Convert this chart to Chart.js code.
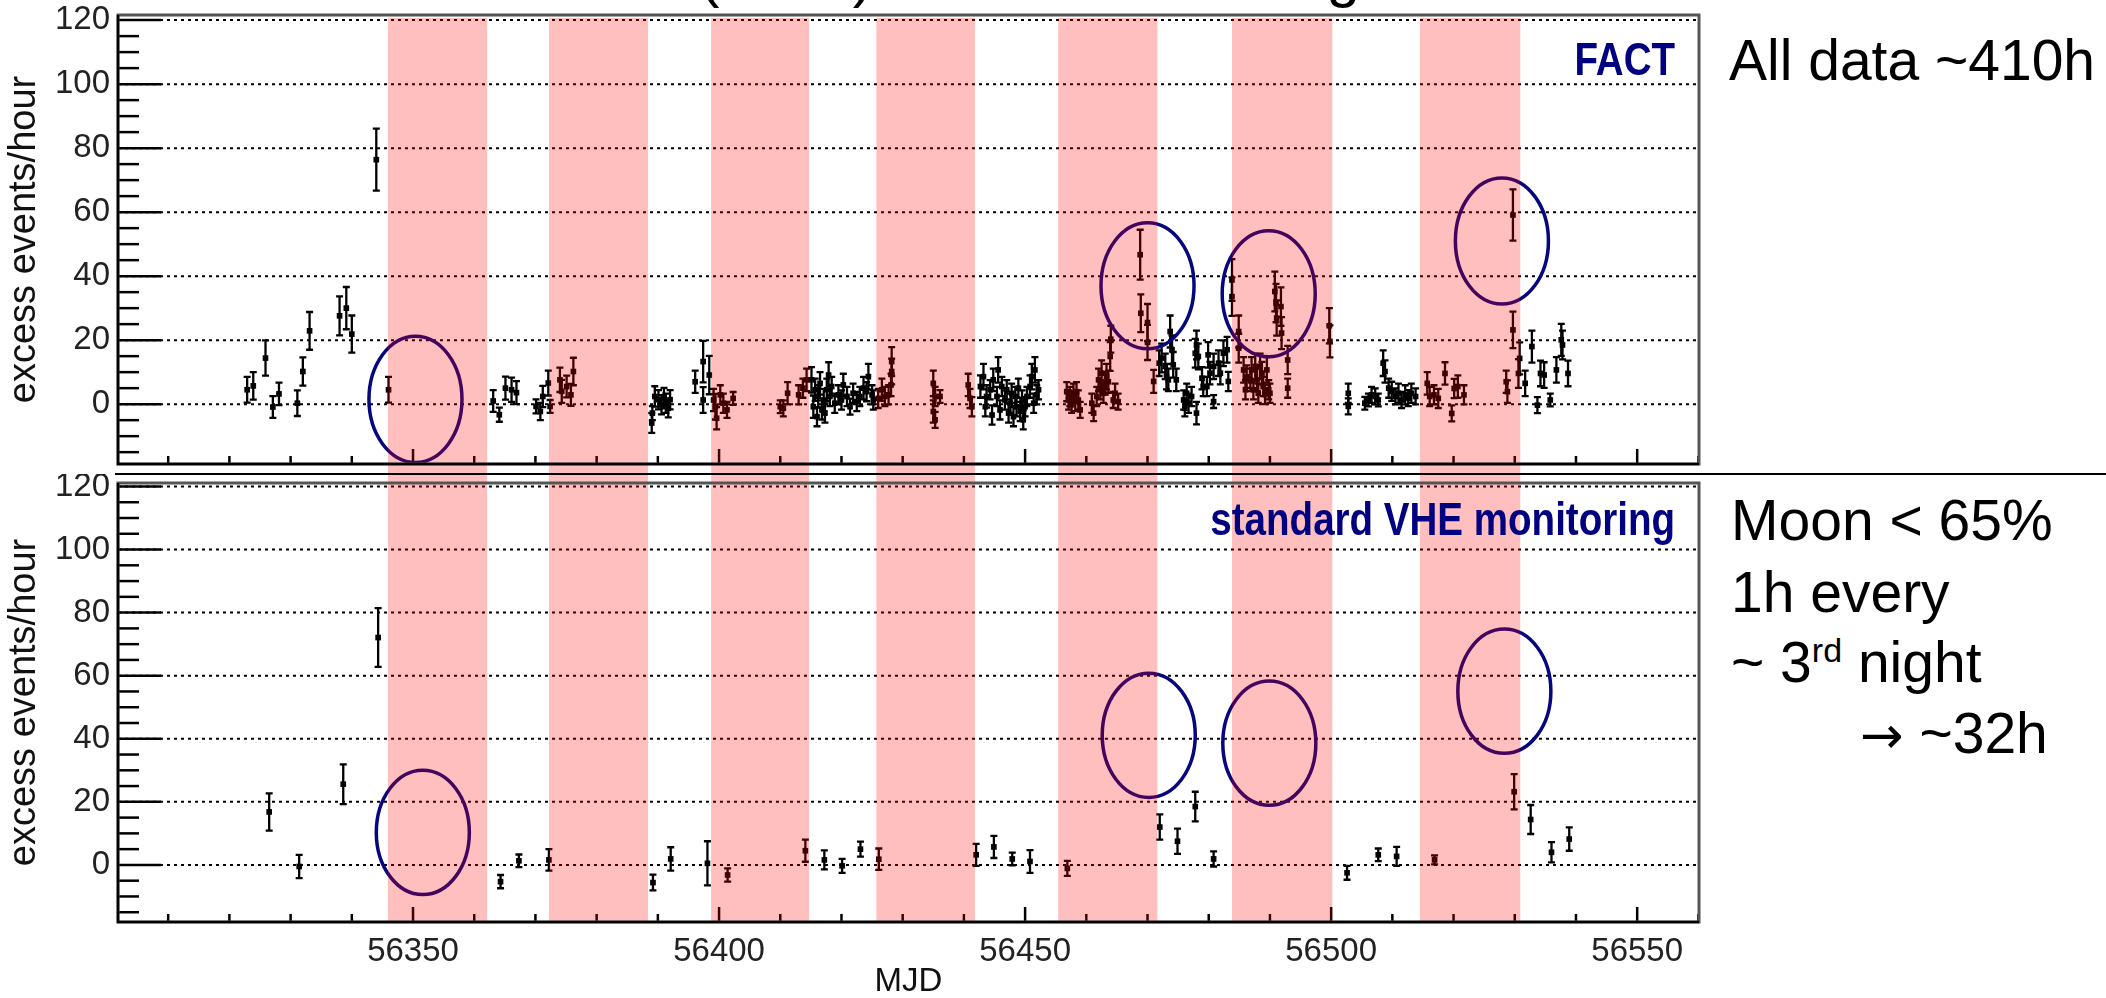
<!DOCTYPE html>
<html>
<head>
<meta charset="utf-8">
<script src="https://cdn.jsdelivr.net/npm/chart.js@4.4.0/dist/chart.umd.min.js"></script>
<style>
  html, body { margin: 0; padding: 0; background: #fff; }
  body { position: relative; width: 2106px; height: 998px; overflow: hidden; font-family: "Liberation Sans", Arial, sans-serif; }
  canvas { position: absolute; left: 0; }
  #allData { top: 0; }
  #monitoring { top: 474px; }
  .sep { position: absolute; left: 115px; top: 473px; width: 1991px; height: 2px; background: #000; z-index: 2; }
  .title { position: absolute; left: 466px; top: -54px; font-size: 60px; line-height: 60px; white-space: nowrap; color: #000; }
  .note { position: absolute; font-size: 57px; line-height: 57px; white-space: nowrap; color: #000; }
  .sup { font-size: 34px; position: relative; top: -20px; }
  .arrow { font-family: "DejaVu Sans", sans-serif; font-size: 52px; }
</style>
</head>
<body>
<div class="title">Mrk 501 (2013) Dense Monitoring</div>
<canvas id="allData" width="1712" height="474"></canvas>
<canvas id="monitoring" width="1712" height="524"></canvas>
<div class="sep"></div>
<div class="note" style="left:1729px; top:32px">All data ~410h</div>
<div class="note" style="left:1731px; top:492px">Moon &lt; 65%</div>
<div class="note" style="left:1731px; top:564px">1h every</div>
<div class="note" style="left:1731px; top:634px">~ 3<span class="sup">rd</span> night</div>
<div class="note" style="left:1860px; top:705px"><span class="arrow">&rarr;</span> ~32h</div>
<script>
// axis setup
const mjdMin = 56301.8, mjdMax = 56560.1;
const xLabels = [56350, 56400, 56450, 56500, 56550];
const yLabels = [0, 20, 40, 60, 80, 100, 120];

// bright moon periods (shaded)
const moonStart = [56345.9, 56372.2, 56398.7, 56425.7, 56455.4, 56483.8, 56514.5];
const moonEnd   = [56362.1, 56388.4, 56414.7, 56441.8, 56471.6, 56500.2, 56530.9];

// all data: nightly excess rate
const allMjd = [
  56322.9, 56323.9, 56325.9, 56327.1, 56328.1, 56331.1, 56332.0, 56333.1, 56338.0, 56339.1, 56340.0, 56344.0, 56346.0,
  56363.1, 56364.1, 56365.1, 56366.1, 56366.9, 56370.1, 56370.8, 56371.2, 56372.1, 56372.4, 56374.0, 56374.3, 56375.1, 56375.8, 56376.2,
  56389.0, 56389.1, 56389.5, 56390.1, 56390.6, 56391.0, 56391.3, 56391.7, 56392.0, 56396.1,
  56397.4, 56397.4, 56398.4, 56399.1, 56399.4, 56399.6, 56400.2, 56400.7, 56401.3, 56402.3,
  56410.0, 56410.5, 56411.2, 56413.0, 56413.7, 56414.3,
  56415.1, 56415.4, 56415.7, 56416.0, 56416.2, 56416.5, 56416.8, 56417.1, 56417.3, 56417.6, 56417.9, 56418.1, 56418.4,
  56418.9, 56419.5, 56420.0, 56420.3, 56420.9, 56421.4, 56421.9, 56422.5, 56423.0, 56423.6, 56424.1, 56424.4, 56425.0, 56425.2,
  56426.0, 56426.6, 56427.1, 56427.7, 56428.1, 56428.2, 56428.2,
  56435.0, 56435.3, 56435.0, 56435.3, 56436.1, 56440.7, 56441.0, 56441.3,
  56442.7, 56443.2, 56443.5, 56443.7, 56444.3, 56444.6, 56444.8, 56445.4, 56445.6, 56445.9, 56446.2, 56446.7, 56447.0, 56447.3, 56447.6, 56447.8,
  56448.1, 56448.4, 56448.6, 56448.9, 56449.2, 56449.5, 56449.7, 56450.0, 56450.3, 56450.8, 56451.1, 56451.4, 56451.6, 56451.9, 56452.2,
  56456.8, 56457.1, 56457.3, 56457.6, 56457.9, 56458.2, 56458.4, 56458.7, 56459.0,
  56460.9, 56461.2, 56461.7, 56462.0, 56462.3, 56462.5, 56462.8, 56463.1, 56463.3, 56463.6, 56463.9, 56464.0, 56464.4, 56464.7, 56465.2,
  56468.8, 56468.9, 56470.0, 56470.0, 56471.0,
  56471.9, 56472.3, 56472.9, 56473.1, 56473.4, 56473.7, 56474.0, 56474.2, 56474.7,
  56475.9, 56476.1, 56476.4, 56476.7, 56477.2, 56478.0, 56477.8, 56478.0, 56478.3,
  56478.9, 56479.1, 56479.7, 56479.9, 56480.2, 56480.8, 56480.8, 56481.6, 56481.9, 56482.4, 56483.0, 56483.2,
  56483.8, 56483.8, 56484.9, 56484.9,
  56485.7, 56486.0, 56486.2, 56486.8, 56487.0, 56487.3, 56487.6, 56487.9, 56488.1, 56488.4, 56488.7, 56488.9, 56489.2, 56489.5, 56489.8, 56490.0,
  56490.8, 56491.0, 56491.1, 56491.8, 56491.9, 56492.9, 56492.9,
  56499.7, 56499.8, 56502.8, 56502.8,
  56505.5, 56506.1, 56506.6, 56507.2, 56507.7, 56508.5, 56508.8, 56509.4, 56509.9, 56510.5, 56511.0, 56511.5, 56512.1, 56512.6,
  56513.1, 56513.8, 56515.7, 56516.1, 56516.8, 56517.5, 56518.6, 56519.7, 56520.1, 56520.7, 56521.7,
  56528.6, 56528.8, 56529.7, 56529.7, 56530.6, 56530.8, 56531.7, 56532.8, 56533.7, 56534.2, 56534.8, 56535.8, 56536.8, 56537.6, 56537.8, 56538.7
];
const allExcess = [
  4.5, 5.7, 14.4, -0.9, 3.2, 0.3, 10.2, 22.9, 27.6, 30.0, 21.9, 76.4, 4.5,
  1.0, -3.3, 5.0, 4.5, 3.6, -0.7, -2.3, 2.4, 6.6, -0.7, 7.6, 4.0, 5.5, 2.9, 10.2,
  -5.9, -2.8, 2.4, 1.4, -0.2, 1.9, 0.3, -1.3, 1.4, 7.0,
  13.3, 1.3, 9.1, 1.3, -0.8, -4.4, 2.9, 0.3, -1.8, 1.8,
  -0.8, -1.3, 3.4, 2.9, 5.0, 7.6,
  7.6, -0.8, 4.5, -3.9, 2.4, 6.5, -1.8, 1.3, -2.8, 4.5, 9.1, 2.4, 5.5,
  0.3, 2.9, 1.3, 6.0, 2.4, -0.8, 3.4, 0.8, 2.4, 5.0, 3.9, 8.6, 2.9, 1.3,
  1.8, 4.5, 2.4, 2.9, 6.0, 10.2, 13.3,
  6.5, 2.4, -2.3, -4.9, 2.4, 6.0, 1.8, -0.8,
  5.5, 8.6, -0.8, 2.4, 4.5, -3.4, 7.6, 2.4, 10.7, -1.8, 5.5, 1.3, 4.5, -2.8, 0.3, 3.4,
  -3.9, 2.4, -0.8, 5.0, -2.3, 1.3, -4.9, -0.8, 2.4, 5.5, 8.6, 0.3, 10.7, 2.9, 4.5,
  3.9, 1.3, 2.4, -0.2, 3.4, 0.8, 3.9, 1.3, -1.8,
  0.3, -2.8, 2.4, 7.6, 4.5, 9.7, 3.4, 6.5, 8.6, 7.0, 14.9, 20.3, 1.3, 3.4, 0.8,
  46.7, 28.4, 25.5, 19.3, 7.1,
  12.8, 14.4, 11.8, 8.6, 7.6, 22.7, 17.0, 12.3, 7.6,
  1.3, -1.3, 3.4, 0.3, 2.4, -2.8, 15.9, 18.5, 14.9,
  8.1, 5.5, 5.5, 15.4, 9.7, 0.8, 11.8, 12.8, 9.7, 15.9, 17.0, 7.1,
  38.8, 33.6, 22.7, 17.5,
  10.7, 4.5, 8.6, 7.6, 10.7, 4.5, 11.8, 7.6, 3.4, 11.8, 9.7, 5.5, 3.0, 10.7, 4.5, 3.4,
  35.2, 31.6, 26.9, 30.5, 22.2, 13.8, 5.0,
  24.5, 19.6, 3.4, -0.7,
  0.3, 1.3, 2.9, 2.4, 1.3, 12.8, 10.2, 5.0, 4.0, 2.4, 3.4, 1.3, 2.9, 1.9,
  3.4, 2.4, 6.5, 2.4, 2.9, 1.8, 9.6, -2.9, 4.9, 5.5, 2.9,
  7.0, 3.9, 59.1, 23.2, 9.6, 14.3, 6.5, 18.0, -0.3, 9.6, 9.1, 1.3, 10.7, 20.1, 18.5, 9.6
];
const allError = [
  4.0, 4.3, 5.5, 3.4, 3.5, 4.0, 4.4, 5.9, 6.1, 6.6, 5.8, 9.7, 4.0,
  3.4, 2.2, 3.6, 3.8, 3.6, 2.2, 2.7, 3.3, 3.9, 2.0, 3.8, 3.6, 3.4, 3.4, 4.3,
  3.1, 2.2, 3.2, 3.0, 3.0, 3.2, 3.0, 2.8, 3.0, 3.5,
  6.5, 4.0, 6.0, 3.5, 4.0, 3.5, 3.0, 3.0, 2.5, 2.0,
  2.0, 2.5, 3.5, 3.0, 3.0, 3.5,
  4.0, 3.5, 3.5, 3.0, 3.5, 3.5, 3.0, 3.5, 3.0, 3.5, 4.0, 3.0, 3.0,
  3.0, 3.0, 3.0, 3.5, 3.0, 2.5, 3.0, 3.0, 3.0, 3.5, 3.0, 4.0, 3.0, 3.0,
  3.0, 3.5, 3.0, 3.0, 3.5, 4.0, 4.5,
  4.0, 3.0, 3.5, 2.5, 2.0, 3.5, 3.0, 3.0,
  3.5, 4.0, 3.0, 3.5, 3.0, 3.0, 3.5, 3.0, 4.0, 3.0, 3.0, 3.0, 3.0, 3.0, 3.0, 3.0,
  3.0, 3.0, 3.0, 3.0, 3.0, 3.0, 3.0, 3.0, 3.0, 3.5, 4.0, 3.0, 4.0, 3.0, 3.0,
  3.0, 3.0, 3.0, 2.5, 3.0, 3.0, 3.0, 3.0, 2.5,
  3.0, 2.5, 3.0, 3.5, 3.0, 4.0, 3.0, 3.5, 4.0, 3.5, 4.5, 4.2, 2.5, 3.0, 2.5,
  7.8, 5.9, 5.8, 5.5, 3.6,
  4.0, 4.5, 4.0, 4.0, 3.5, 5.0, 4.5, 4.0, 3.5,
  3.0, 2.5, 3.0, 3.0, 3.0, 3.5, 4.5, 4.5, 4.0,
  3.5, 3.0, 3.0, 4.0, 3.5, 2.0, 4.0, 4.0, 3.5, 4.0, 4.0, 3.0,
  6.5, 6.0, 5.0, 4.5,
  4.0, 3.0, 3.5, 3.5, 4.0, 3.0, 4.0, 3.5, 3.0, 4.0, 3.5, 3.0, 3.0, 4.0, 3.0, 3.0,
  6.2, 6.0, 5.5, 6.0, 5.0, 4.4, 3.0,
  5.5, 5.0, 3.0, 2.5,
  2.0, 2.0, 2.5, 2.5, 2.0, 4.0, 3.5, 3.0, 3.0, 2.5, 3.0, 2.5, 3.0, 2.5,
  3.0, 2.5, 3.5, 3.0, 3.0, 3.0, 3.5, 2.5, 3.0, 3.5, 3.0,
  3.5, 3.5, 8.0, 5.7, 4.5, 5.0, 4.0, 5.0, 2.5, 4.0, 4.0, 2.0, 4.0, 5.0, 4.5, 4.0
];

// standard VHE monitoring: 1h every ~3rd night
const monMjd = [56326.5, 56331.4, 56338.6, 56344.3, 56364.3, 56367.3, 56372.2, 56389.2, 56392.1, 56398.1, 56401.4,
  56414.1, 56417.2, 56420.1, 56423.1, 56426.1, 56442.0, 56444.9, 56447.9, 56450.8, 56456.9, 56472.0,
  56474.9, 56477.8, 56480.8, 56502.6, 56507.7, 56510.7, 56516.9, 56529.9, 56532.6, 56536.0, 56538.9];
const monExcess = [16.8, -0.5, 25.6, 72.1, -5.3, 1.3, 1.6, -5.6, 1.9, 0.5, -3.2,
  4.5, 1.6, -0.3, 5.0, 1.8, 3.2, 5.7, 1.9, 1.1, -1.1, 12.0,
  7.5, 18.5, 1.9, -2.5, 3.2, 2.7, 1.6, 23.2, 14.4, 4.0, 8.2];
const monError = [5.9, 3.7, 6.3, 9.3, 2.1, 2.0, 3.4, 2.5, 3.7, 7.0, 2.1,
  3.5, 3.0, 2.2, 2.4, 3.4, 3.5, 3.5, 2.0, 3.6, 2.4, 4.0,
  4.0, 4.7, 2.4, 2.2, 2.0, 3.0, 1.4, 5.6, 4.6, 3.2, 3.7];

// circled flares (centre in MJD / excess)
const allRingMjd = [56350.4, 56470.0, 56489.8, 56527.9];
const allRingExcess = [1.5, 37.0, 34.5, 51.0];
const monRingMjd = [56351.6, 56470.2, 56489.9, 56528.3];
const monRingExcess = [10.3, 41.1, 38.6, 55.1];
const ringHalfDays = 7.6, ringHalfExcess = 19.7;

if (allMjd.length !== allExcess.length || allMjd.length !== allError.length) console.error('all data arrays differ in length');

Chart.defaults.font.family = '"Liberation Sans", Arial, sans-serif';
Chart.defaults.color = '#222';

function panelPlugin(mjd, excess, error, ringMjd, ringExcess, label, labelY, isTop) {
  return {
    id: 'panel',
    beforeDatasetsDraw(chart) {
      const {ctx, chartArea: a, scales: {x, y}} = chart;
      ctx.save();
      // dotted grid
      ctx.strokeStyle = '#000';
      ctx.lineWidth = 2;
      ctx.setLineDash([3, 4]);
      yLabels.forEach(v => {
        const py = y.getPixelForValue(v);
        ctx.beginPath(); ctx.moveTo(a.left, py); ctx.lineTo(a.right, py); ctx.stroke();
      });
      ctx.setLineDash([]);
      // inward ticks, ROOT style
      ctx.lineWidth = 2.5;
      for (let v = -15; v <= 120; v += 5) {
        const py = y.getPixelForValue(v);
        if (py > a.bottom || py < a.top) continue;
        const len = v % 20 === 0 ? 43 : 21;
        ctx.beginPath(); ctx.moveTo(a.left, py); ctx.lineTo(a.left + len, py); ctx.stroke();
      }
      for (let m = 56310; m < mjdMax; m += 10) {
        const px = x.getPixelForValue(m);
        const len = m % 50 === 0 ? 15 : 8;
        ctx.beginPath(); ctx.moveTo(px, a.bottom); ctx.lineTo(px, a.bottom - len); ctx.stroke();
      }
      ctx.restore();
    },
    afterDatasetsDraw(chart) {
      const {ctx, chartArea: a, scales: {x, y}} = chart;
      ctx.save();
      // error bars
      ctx.strokeStyle = '#000';
      ctx.lineWidth = 2.3;
      mjd.forEach((m, i) => {
        const px = x.getPixelForValue(m);
        const lo = y.getPixelForValue(excess[i] - error[i]);
        const hi = y.getPixelForValue(excess[i] + error[i]);
        ctx.beginPath();
        ctx.moveTo(px, lo); ctx.lineTo(px, hi);
        ctx.moveTo(px - 3.5, lo); ctx.lineTo(px + 3.5, lo);
        ctx.moveTo(px - 3.5, hi); ctx.lineTo(px + 3.5, hi);
        ctx.stroke();
      });
      // rings
      ctx.strokeStyle = '#06067e';
      ctx.lineWidth = 3.5;
      ringMjd.forEach((m, i) => {
        const cx = x.getPixelForValue(m), cy = y.getPixelForValue(ringExcess[i]);
        const rx = x.getPixelForValue(m + ringHalfDays) - cx;
        const ry = cy - y.getPixelForValue(ringExcess[i] + ringHalfExcess);
        ctx.beginPath(); ctx.ellipse(cx, cy, rx, ry, 0, 0, Math.PI * 2); ctx.stroke();
      });
      // moon bands, running through the gap between the panels
      ctx.fillStyle = 'rgba(255, 0, 0, 0.25)';
      const top = isTop ? a.top + 3 : 0;
      const bottom = isTop ? chart.height : a.bottom - 1;
      moonStart.forEach((s, i) => {
        const x1 = x.getPixelForValue(s), x2 = x.getPixelForValue(moonEnd[i]);
        ctx.fillRect(x1, top, x2 - x1, bottom - top);
      });
      // frame
      ctx.strokeStyle = '#555';
      ctx.lineWidth = 3;
      ctx.strokeRect(a.left, a.top, a.right - a.left, a.bottom - a.top);
      ctx.strokeStyle = '#000';
      ctx.lineWidth = 2.5;
      ctx.beginPath();
      ctx.moveTo(a.left, a.top); ctx.lineTo(a.left, a.bottom); ctx.lineTo(a.right, a.bottom);
      ctx.stroke();
      // panel label
      ctx.fillStyle = '#000080';
      ctx.font = 'bold 47px "Liberation Sans", Arial, sans-serif';
      ctx.textAlign = 'right';
      ctx.textBaseline = 'alphabetic';
      ctx.translate(a.right - 24, labelY);
      ctx.scale(0.82, 1);
      ctx.fillText(label, 0, 0);
      ctx.restore();
    }
  };
}

function yScale(min, max) {
  return {
    type: 'linear', min: min, max: max,
    afterBuildTicks: s => { s.ticks = yLabels.map(v => ({value: v})); },
    afterFit: s => { s.width = 118; s.paddingTop = 0; s.paddingBottom = 0; },
    grid: {display: false, drawTicks: false},
    border: {display: false},
    ticks: {padding: 8, color: '#222', font: {size: 33}, callback: v => String(v)},
    title: {display: true, text: 'excess events/hour', color: '#111', font: {size: 38, lineHeight: 1}, padding: {top: 6, bottom: 0}}
  };
}

function xScale(height, showLabels) {
  return {
    type: 'linear', min: mjdMin, max: mjdMax,
    afterBuildTicks: s => { s.ticks = xLabels.map(v => ({value: v})); },
    afterFit: s => { s.height = height; s.paddingLeft = 0; s.paddingRight = 0; },
    grid: {display: false, drawTicks: false},
    border: {display: false},
    ticks: {display: showLabels, padding: 10, color: '#222', font: {size: 33}, maxRotation: 0, autoSkip: false, callback: v => String(v)},
    title: {display: showLabels, text: 'MJD', color: '#111', font: {size: 33, lineHeight: 1}, padding: {top: 0, bottom: 0}}
  };
}

function points(mjd, excess) {
  return mjd.map((m, i) => ({x: m, y: excess[i]}));
}

const common = {
  responsive: false,
  animation: false,
  devicePixelRatio: 1,
  events: [],
  plugins: {legend: {display: false}, tooltip: {enabled: false}, title: {display: false}}
};

new Chart(document.getElementById('allData'), {
  type: 'scatter',
  data: {datasets: [{data: points(allMjd, allExcess), pointStyle: 'rect', pointRadius: 4, backgroundColor: '#000', borderWidth: 0}]},
  options: Object.assign({}, common, {
    layout: {padding: {left: 0, top: 15, right: 13, bottom: 0}},
    scales: {x: xScale(10, false), y: yScale(-18.7, 121.6)}
  }),
  plugins: [panelPlugin(allMjd, allExcess, allError, allRingMjd, allRingExcess, 'FACT', 75, true)]
});

new Chart(document.getElementById('monitoring'), {
  type: 'scatter',
  data: {datasets: [{data: points(monMjd, monExcess), pointStyle: 'rect', pointRadius: 4, backgroundColor: '#000', borderWidth: 0}]},
  options: Object.assign({}, common, {
    layout: {padding: {left: 0, top: 9, right: 13, bottom: 0}},
    scales: {x: xScale(76, true), y: yScale(-18.1, 121.1)}
  }),
  plugins: [panelPlugin(monMjd, monExcess, monError, monRingMjd, monRingExcess, 'standard VHE monitoring', 61, false)]
});
</script>
</body>
</html>
